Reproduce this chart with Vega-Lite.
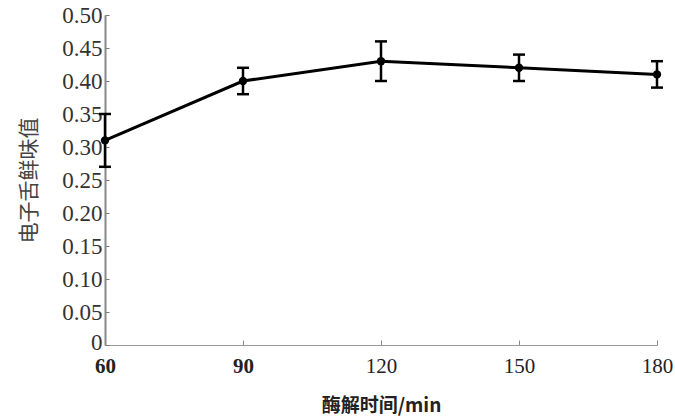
{
  "$schema": "https://vega.github.io/schema/vega-lite/v6.json",
  "width": 552,
  "height": 330,
  "autosize": "none",
  "padding": {"left": 105, "top": 15, "right": 18, "bottom": 72},
  "background": "white",
  "config": {"view": {"stroke": null}},
  "data": {"values": [
    {"t": 60, "v": 0.31, "lo": 0.27, "hi": 0.35},
    {"t": 90, "v": 0.40, "lo": 0.38, "hi": 0.42},
    {"t": 120, "v": 0.43, "lo": 0.40, "hi": 0.46},
    {"t": 150, "v": 0.42, "lo": 0.40, "hi": 0.44},
    {"t": 180, "v": 0.41, "lo": 0.39, "hi": 0.43}
  ]},
  "encoding": {
    "x": {"field": "t", "type": "quantitative",
      "scale": {"domain": [60, 180], "nice": false, "zero": false},
      "axis": {"values": [60, 90, 120, 150, 180], "grid": false, "title": "酶解时间/min", "labelFlush": false,
        "titleFont": "Noto Sans CJK SC", "titleFontSize": 19, "titleFontWeight": "bold", "titleColor": "#222", "titlePadding": 20,
        "labelFont": "Liberation Serif, Times New Roman, serif", "labelFontSize": 21, "labelColor": "#222", "labelPadding": 15,
        "labelFontWeight": {"condition": {"test": "datum.value <= 90", "value": "bold"}, "value": "normal"},
        "tickSize": -5, "tickColor": "#888", "domainColor": "#999", "domainWidth": 1}
    },
    "y": {"field": "v", "type": "quantitative",
      "scale": {"domain": [0, 0.5], "nice": false},
      "axis": {"values": [0, 0.05, 0.1, 0.15, 0.2, 0.25, 0.3, 0.35, 0.4, 0.45, 0.5], "format": ".2f",
        "labelExpr": "datum.value == 0 ? '0' : datum.label",
        "labelOffset": {"condition": {"test": "datum.value == 0", "value": -3}, "value": 0},
        "grid": false, "title": "电子舌鲜味值",
        "titleFont": "Noto Sans CJK SC", "titleFontSize": 21, "titleFontWeight": "normal", "titleColor": "#444", "titlePadding": 22,
        "labelFont": "Liberation Serif, Times New Roman, serif", "labelFontSize": 23, "labelColor": "#333", "labelPadding": 7,
        "tickSize": -4, "tickColor": "#777", "domainColor": "#888", "domainWidth": 2}
    }
  },
  "layer": [
    {"mark": {"type": "line", "color": "black", "strokeWidth": 3}, "encoding": {}},
    {"mark": {"type": "rule", "color": "black", "strokeWidth": 2.5}, "encoding": {"y": {"field": "lo", "type": "quantitative"}, "y2": {"field": "hi"}}},
    {"mark": {"type": "tick", "color": "black", "opacity": 1, "orient": "horizontal", "size": 12, "thickness": 2.5}, "encoding": {"y": {"field": "lo", "type": "quantitative"}}},
    {"mark": {"type": "tick", "color": "black", "opacity": 1, "orient": "horizontal", "size": 12, "thickness": 2.5}, "encoding": {"y": {"field": "hi", "type": "quantitative"}}},
    {"mark": {"type": "point", "filled": true, "color": "black", "size": 70, "opacity": 1}, "encoding": {}}
  ]
}
